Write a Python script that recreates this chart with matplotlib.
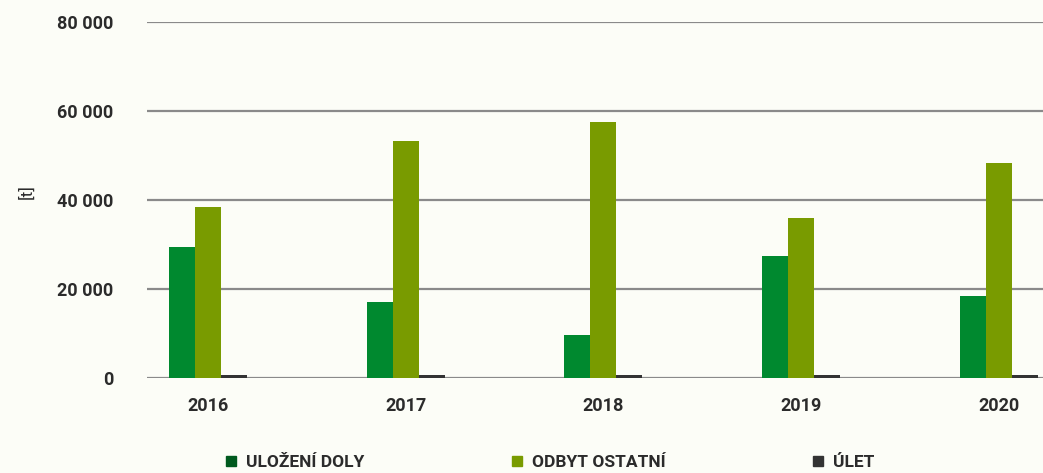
import numpy as np
import matplotlib.pyplot as plt
from matplotlib.lines import Line2D

# data
years = ["2016", "2017", "2018", "2019", "2020"]
ulozeni_doly = [29400, 17100, 9700, 27400, 18400]
odbyt_ostatni = [38400, 53300, 57500, 36000, 48300]
ulet = [600, 600, 600, 600, 600]
series_names = ["ULOŽENÍ DOLY", "ODBYT OSTATNÍ", "ÚLET"]

bar_colors = ["#00892f", "#799b00", "#333333"]
legend_colors = ["#005a1e", "#799b00", "#333333"]
bg = "#fcfdf7"

plt.rcParams['font.family'] = ['Roboto', 'DejaVu Sans']

fig = plt.figure(figsize=(10.43, 4.73), dpi=100, facecolor=bg)
ax = fig.add_axes([0.141, 0.2008, 0.859, 0.7527], facecolor=bg)

x = np.arange(len(years))
w = 0.1315
for i, vals in enumerate([ulozeni_doly, odbyt_ostatni, ulet]):
    ax.bar(x + (i - 1) * w, vals, width=w, color=bar_colors[i], zorder=3)

ax.set_xlim(-0.308, 4.223)
ax.set_ylim(0, 80000)
yt = [0, 20000, 40000, 60000, 80000]
ax.set_yticks(yt)
ax.set_yticklabels([f"{v:,}".replace(",", " ") for v in yt])
ax.set_xticks(x)
ax.set_xticklabels(years)
ax.tick_params(axis='y', length=0, pad=24, labelsize=13, labelcolor="#2b2b2b")
ax.tick_params(axis='x', length=0, pad=14, labelsize=13, labelcolor="#2b2b2b")
for lab in ax.get_xticklabels() + ax.get_yticklabels():
    lab.set_fontweight('bold')

ax.yaxis.grid(True, color="#8a8a8a", linewidth=1.6, zorder=0)
ax.set_axisbelow(True)
for s in ax.spines.values():
    s.set_visible(False)

fig.text(0.025, 0.594, "[t]", rotation=90, ha='center', va='center',
         fontsize=12.5, color="#2b2b2b")

handles = [Line2D([], [], marker='s', linestyle='none', markersize=7.5,
                  color=c) for c in legend_colors]
leg = fig.legend(handles, series_names, loc='center', ncol=3,
                 bbox_to_anchor=(0.527, 0.022), frameon=False,
                 prop={'weight': 'bold', 'size': 12.5},
                 handlelength=0.7, handletextpad=0.55, columnspacing=8.4)
for t in leg.get_texts():
    t.set_color("#2b2b2b")

fig.savefig("out.png", dpi=100, facecolor=bg)
